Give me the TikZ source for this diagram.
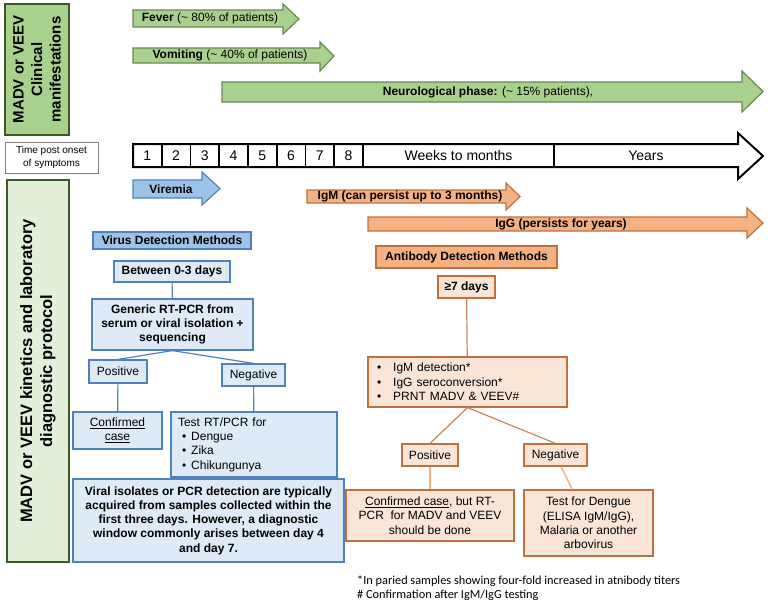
\documentclass[tikz,border=0pt]{standalone}
\usepackage{fontspec}
\setmainfont{Liberation Sans}
\newfontfamily\notafont{Carlito}
\usepackage{xcolor}
\definecolor{verde}{RGB}{169,209,142}
\definecolor{verdeClaro}{RGB}{226,239,217}
\definecolor{verdeBorde}{RGB}{105,135,85}
\definecolor{verdeOscuro}{RGB}{60,90,38}
\definecolor{azul}{RGB}{157,195,230}
\definecolor{azulClaro}{RGB}{222,235,247}
\definecolor{azulBorde}{RGB}{79,129,189}
\definecolor{naranja}{RGB}{244,177,131}
\definecolor{naranjaClaro}{RGB}{251,229,214}
\definecolor{naranjaBorde}{RGB}{192,112,60}
\usepackage{tikz}
\usetikzlibrary{calc,positioning}
\tikzstyle{garrow}=[draw=verdeBorde, fill=verde, line width=1.2pt]
\tikzstyle{barrow}=[draw=azulBorde, fill=azul, line width=1.2pt]
\tikzstyle{oarrow}=[draw=naranjaBorde, fill=naranja, line width=1.2pt]
\tikzstyle{atext}=[inner sep=0pt]
\tikzstyle{side}=[rectangle, draw=verdeOscuro, line width=2.2pt,
                  align=center, inner sep=2pt]
\tikzstyle{cell}=[rectangle, draw, line width=1.6pt, minimum height=23,
                  inner sep=0pt, font=\fontsize{14}{16}\selectfont]
\tikzstyle{bbox}=[rectangle, draw=azulBorde, fill=azulClaro,
                  line width=1.2pt, align=center, inner sep=2pt]
\tikzstyle{obox}=[rectangle, draw=naranjaBorde, fill=naranjaClaro,
                  line width=1.2pt, align=center, inner sep=2pt]
\tikzstyle{bedge}=[draw=azulBorde, line width=1.2pt]
\tikzstyle{oedge}=[draw=naranjaBorde!85, line width=1.2pt]
\tikzstyle{pedge}=[draw=naranja, line width=1.5pt]

\begin{document}
\fontsize{12}{14.3}\selectfont
\begin{tikzpicture}[x=1pt, y=-1pt]
    \useasboundingbox (0,0) rectangle (768,606);

    % side labels
    \node[side, fill=verde, minimum width=131, minimum height=64, rotate=90,
        font=\fontsize{15}{18.5}\bfseries\selectfont] (clin) at (37,69.5)
        {MADV or VEEV\\Clinical\\manifestations};
    \node[rectangle, draw=gray, line width=0.8pt, minimum width=93,
        minimum height=31, align=center, font=\fontsize{10}{13}\selectfont]
        (time) at (51.5,157.5) {Time post onset\\of symptoms};
    \node[side, fill=verdeClaro, minimum width=382, minimum height=62, rotate=90,
        font=\fontsize{16.5}{20}\bfseries\selectfont] (kin) at (38,371)
        {MADV or VEEV kinetics and laboratory\\diagnostic protocol};

    % clinical manifestations
    \draw[garrow] (133,10) -- (283,10) -- (283,4) -- (299,19) -- (283,34)
        -- (283,27) -- (133,27) -- cycle;
    \node[atext] (fever) at (210,18.5)
        {\textbf{Fever} (\textasciitilde{} 80\% of patients)};
    \draw[garrow] (133,48) -- (320,48) -- (320,42) -- (334,56) -- (320,71)
        -- (320,63) -- (133,63) -- cycle;
    \node[atext] (vomit) at (230,55.5)
        {\textbf{Vomiting} (\textasciitilde{} 40\% of patients)};
    \draw[garrow] (222,82) -- (742,82) -- (742,71) -- (763,91.5) -- (742,112)
        -- (742,102) -- (222,102) -- cycle;
    \node[atext] (neuro) at (488,92)
        {\textbf{Neurological phase:} (\textasciitilde{} 15\% patients),};

    % time line
    \draw[line width=2pt, fill=white] (133,144) -- (738,144) -- (738,133)
        -- (763,156) -- (738,179) -- (738,167) -- (133,167) -- cycle;
    \foreach \i in {1,...,8}
        \node[cell, minimum width=28.75] (t\i) at ({133+28.75*(\i-0.5)},155.5) {\i};
    \node[cell, minimum width=191] (weeks) at (458.5,155.5) {Weeks to months};
    \node[font=\fontsize{14}{16}\selectfont] (years) at (646,155.5) {Years};

    % kinetics
    \draw[barrow] (133,180) -- (202,180) -- (202,172) -- (220,188.5) -- (202,205)
        -- (202,198) -- (133,198) -- cycle;
    \node[atext, font=\bfseries] (viremia) at (171,189) {Viremia};
    \draw[oarrow] (307,190) -- (506,190) -- (506,183) -- (520,196.5) -- (506,210)
        -- (506,203) -- (307,203) -- cycle;
    \node[atext, font=\bfseries] (igm) at (410,196.5)
        {IgM (can persist up to 3 months)};
    \draw[oarrow] (368,217) -- (747,217) -- (747,208) -- (763,223) -- (747,238)
        -- (747,231) -- (368,231) -- cycle;
    \node[atext, font=\bfseries] (igg) at (561,224) {IgG (persists for years)};

    % virus detection
    \node[bbox, fill=azul, font=\bfseries, minimum width=158, minimum height=17]
        (vdm) at (172,240.5) {Virus Detection Methods};
    \node[bbox, font=\bfseries, minimum width=116, minimum height=21]
        (d03) at (172,271.5) {Between 0-3 days};
    \node[bbox, font=\bfseries, minimum width=161, minimum height=51]
        (gen) at (172.5,324.5)
        {Generic RT-PCR from\\serum or viral isolation +\\sequencing};
    \node[bbox, minimum width=58, minimum height=23] (bpos) at (118,371.5) {Positive};
    \node[bbox, minimum width=63, minimum height=22] (bneg) at (253.5,375) {Negative};
    \node[bbox, minimum width=89, minimum height=37] (bconf) at (117.5,430.5)
        {\underline{Confirmed}\\\underline{case}};
    \node[bbox, align=left, text width=152, inner xsep=7pt, minimum height=65]
        (btest) at (254,444.5)
        {Test RT/PCR for\\
         \hspace*{4pt}\textbullet\hspace{5pt}Dengue\\
         \hspace*{4pt}\textbullet\hspace{5pt}Zika\\
         \hspace*{4pt}\textbullet\hspace{5pt}Chikungunya};
    \node[bbox, font=\bfseries, minimum width=271, minimum height=83]
        (bnote) at (208.5,520.5)
        {Viral isolates or PCR detection are typically\\
         acquired from samples collected within the\\
         first three days. However, a diagnostic\\
         window commonly arises between day 4\\
         and day 7.};

    \draw[bedge] (d03) -- (gen);
    \foreach \j in {bpos,bneg}
        \draw[bedge] (gen.south) -- (\j.north);
    \draw[bedge] (bpos) -- (bconf);
    \draw[bedge] (bneg) -- (btest);

    % antibody detection
    \node[obox, fill=naranja, font=\bfseries, minimum width=181, minimum height=22]
        (adm) at (466.5,257) {Antibody Detection Methods};
    \node[obox, font=\bfseries, minimum width=57, minimum height=22]
        (d7) at (466.5,287) {≥7 days};
    \node[obox, align=left, text width=181, inner xsep=9pt, minimum height=50]
        (alist) at (467.5,382)
        {\textbullet\hspace{12pt}IgM detection*\\
         \textbullet\hspace{12pt}IgG seroconversion*\\
         \textbullet\hspace{12pt}PRNT MADV \& VEEV\#};
    \node[obox, minimum width=56, minimum height=22] (apos) at (430,455) {Positive};
    \node[obox, minimum width=63, minimum height=22] (aneg) at (555.5,455) {Negative};
    \node[obox, minimum width=168, minimum height=51] (aconf) at (430,515.5)
        {\underline{Confirmed case}, but RT-\\PCR\ \ for MADV and VEEV\\should be done};
    \node[obox, minimum width=129, minimum height=66] (atest) at (588.5,523)
        {Test for Dengue\\(ELISA IgM/IgG),\\Malaria or another\\arbovirus};

    \draw[oedge] (d7) -- (alist);
    \foreach \j in {apos,aneg}
        \draw[oedge] (alist.south) -- (\j.north);
    \draw[pedge] (apos) -- (aconf);
    \draw[pedge] (aneg) -- (atest);

    % notes
    \node[atext, anchor=west, font=\notafont\fontsize{12.3}{14}\selectfont]
        (nota1) at (357,581)
        {*In paried samples showing four-fold increased in atnibody titers};
    \node[atext, anchor=west, font=\notafont\fontsize{12.3}{14}\selectfont]
        (nota2) at (357,595) {\# Confirmation after IgM/IgG testing};
\end{tikzpicture}
\end{document}
